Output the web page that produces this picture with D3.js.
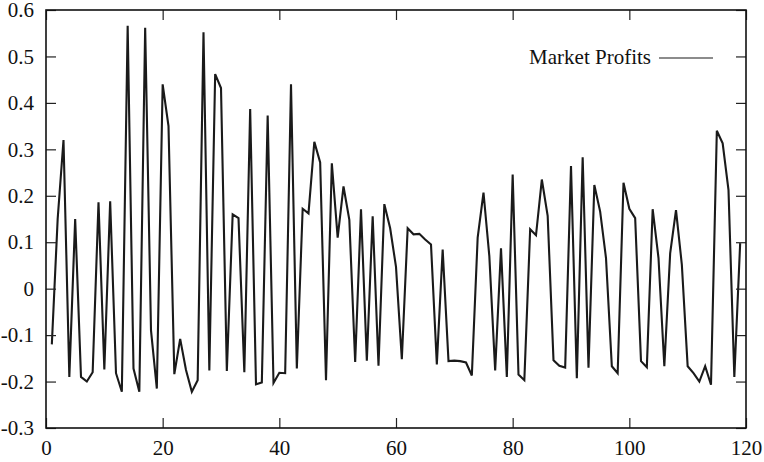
<!DOCTYPE html>
<html>
<head>
<meta charset="utf-8">
<script src="https://cdn.jsdelivr.net/npm/d3@7"></script>
<style>
  html, body { margin: 0; padding: 0; background: #fff; }
  svg { display: block; }
  svg text { font-family: "Liberation Serif", "Times New Roman", serif; }
</style>
</head>
<body>
<svg id="chart" width="764" height="462"></svg>
<script>
// Data: Market Profits at periods 1..119
const periods = d3.range(1, 120);
const profits = [
  -0.12, 0.15, 0.32, -0.19, 0.15, -0.19, -0.20, -0.18, 0.186, -0.174,
  0.188, -0.182, -0.222, 0.566, -0.172, -0.222, 0.562, -0.09, -0.215, 0.44,
  0.35, -0.184, -0.108, -0.175, -0.222, -0.197, 0.552, -0.176, 0.462, 0.432,
  -0.177, 0.16, 0.152, -0.18, 0.387, -0.206, -0.202, 0.373, -0.203, -0.181,
  -0.182, 0.44, -0.172, 0.172, 0.162, 0.316, 0.272, -0.197, 0.27, 0.11,
  0.22, 0.148, -0.158, 0.171, -0.155, 0.156, -0.166, 0.182, 0.13, 0.047,
  -0.152, 0.13, 0.117, 0.118, 0.106, 0.095, -0.163, 0.084, -0.156, -0.155,
  -0.156, -0.159, -0.187, 0.11, 0.207, 0.07, -0.176, 0.087, -0.19, 0.246,
  -0.185, -0.197, 0.128, 0.115, 0.235, 0.157, -0.154, -0.166, -0.17, 0.264,
  -0.193, 0.283, -0.17, 0.223, 0.166, 0.066, -0.167, -0.182, 0.228, 0.172,
  0.152, -0.156, -0.169, 0.171, 0.066, -0.167, 0.076, 0.169, 0.052, -0.167,
  -0.182, -0.2, -0.167, -0.207, 0.34, 0.313, 0.212, -0.19, 0.098
];
const xTicks = [0, 20, 40, 60, 80, 100, 120];
const yTicks = [-0.3, -0.2, -0.1, 0, 0.1, 0.2, 0.3, 0.4, 0.5, 0.6];
const legendLabel = "Market Profits";

const SERIF = "Liberation Serif";
const svg = d3.select("#chart");
const L = 46, R = 746, T = 10, B = 428;

const x = d3.scaleLinear().domain([0, 120]).range([L, R]);
const y = d3.scaleLinear().domain([-0.3, 0.6]).range([B, T]);

const fmt = d => (Math.abs(d) < 1e-9 ? "0" : String(+d.toFixed(1)));

// line
const line = d3.line().x((d, i) => x(periods[i])).y(d => y(d));
svg.append("path")
  .datum(profits)
  .attr("d", line)
  .attr("fill", "none")
  .attr("stroke", "#1a1a1a")
  .attr("stroke-width", 2.1)
  .attr("stroke-linejoin", "miter");

// axes (inward ticks on all sides)
const axStyle = g => {
  g.attr("font-family", SERIF).attr("font-size", 21);
  g.select(".domain").remove();
  g.selectAll(".tick line").attr("stroke", "#222").attr("stroke-width", 1.2);
  g.selectAll(".tick text").attr("fill", "#111")
    .attr("font-family", SERIF)
    .style("font-family", SERIF).style("font-size", "21px");
};

svg.append("g").attr("transform", `translate(0,${B})`)
  .call(d3.axisBottom(x).tickValues(xTicks).tickFormat(fmt).tickSize(-10).tickPadding(12))
  .call(axStyle);
svg.append("g").attr("transform", `translate(0,${T})`)
  .call(d3.axisTop(x).tickValues(xTicks).tickFormat("").tickSize(-10))
  .call(axStyle);
svg.append("g").attr("transform", `translate(${L},0)`)
  .call(d3.axisLeft(y).tickValues(yTicks).tickFormat(fmt).tickSize(-10).tickPadding(12))
  .call(axStyle);
svg.append("g").attr("transform", `translate(${R},0)`)
  .call(d3.axisRight(y).tickValues(yTicks).tickFormat("").tickSize(-10))
  .call(axStyle);

// frame
svg.append("rect")
  .attr("x", L).attr("y", T).attr("width", R - L).attr("height", B - T)
  .attr("fill", "none").attr("stroke", "#111").attr("stroke-width", 1.6);

// legend
const lg = svg.append("g");
lg.append("text")
  .attr("x", 651).attr("y", 64)
  .attr("text-anchor", "end")
  .style("font-family", SERIF)
  .style("font-size", "21px")
  .attr("fill", "#111")
  .text(legendLabel);
lg.append("line")
  .attr("x1", 659).attr("x2", 713).attr("y1", 58).attr("y2", 58)
  .attr("stroke", "#1a1a1a").attr("stroke-width", 1.2);
</script>
</body>
</html>
